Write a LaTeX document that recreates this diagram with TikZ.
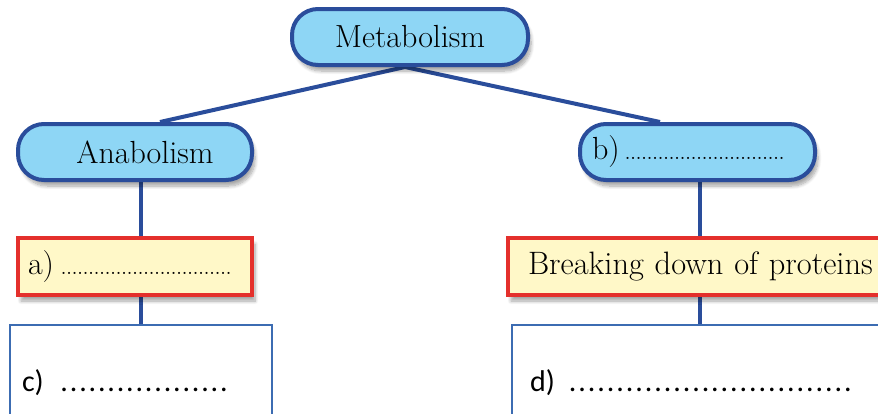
\documentclass[tikz,border=0pt]{standalone}
\usepackage{fontspec}
\newfontfamily\calibri{Carlito}
\usepackage{tikz}
\usetikzlibrary{positioning,backgrounds,shadows.blur}
\definecolor{metBlue}{RGB}{42,77,155}
\definecolor{metSky}{RGB}{142,214,245}
\definecolor{metCream}{RGB}{255,248,200}
\definecolor{metRed}{RGB}{228,48,44}
\definecolor{metFrame}{RGB}{60,108,178}
% row of blank dots: spacing, total length
\newcommand\blankdots[2]{\leaders\hbox to #1{\hss.\hss}\hskip #2\kern0pt\relax}
\tikzset{
 met shadow/.style={blur shadow={shadow xshift=1.5pt,shadow yshift=-3pt,
                    shadow blur steps=8,shadow opacity=35}},
 met pill/.style={draw=metBlue,line width=2pt,fill=metSky,rounded corners=13pt,
                  minimum height=28pt,inner sep=0pt,met shadow},
 met task/.style={draw=metRed,line width=2pt,fill=metCream,minimum height=28.5pt,
                  inner sep=0pt,met shadow},
 met blank/.style={draw=metFrame,line width=1.2pt,fill=white,minimum height=58pt,
                   inner ysep=0pt,align=left},
 met link/.style={metBlue,line width=2pt},
 met label/.style={font=\fontsize{16}{19}\selectfont}
}

\begin{document}
\begin{tikzpicture}[x=0.5pt,y=-0.5pt]
 \useasboundingbox (0,0) rectangle (878,413);

 \node[met pill,met label,minimum width=118pt] (metab) at (410,37) {Metabolism};
 \node[met pill,met label,minimum width=117pt] (anab) at (135,152)
   {\hspace*{10pt}Anabolism};
 \node[met pill,met label,text width=105.5pt,inner xsep=6pt,align=left] (bcat)
   at (697.5,152) {b){\fontsize{10}{11}\selectfont\blankdots{2.75pt}{85pt}}};

 \node[met task,met label,text width=107pt,inner xsep=5pt,align=left] (atask)
   at (135,266.5) {a)\,{\fontsize{10}{11}\selectfont\blankdots{2.75pt}{88pt}}};
 \node[met task,text width=180pt,inner xsep=10pt,align=left,
       font=\fontsize{16.2}{19}\selectfont] (brk)
   at (708,266.5) {Breaking down of proteins};

 \node[met blank,text width=119pt,inner xsep=6pt,
       font=\calibri\fontsize{15}{18}\selectfont] (cbox) at (141,383)
   {c) \blankdots{4.7pt}{88pt}};
 \node[met blank,text width=170pt,inner xsep=9pt,
       font=\calibri\fontsize{15}{18}\selectfont] (dbox) at (700,383)
   {d) \blankdots{4.75pt}{147.5pt}};

 % Connectors run behind the boxes.
 \begin{scope}[on background layer]
  \draw[met link] ([xshift=-2.5pt]metab.south) -- ([xshift=12.5pt]anab.north);
  \draw[met link] ([xshift=-2.5pt]metab.south) -- ([xshift=-18.75pt]bcat.north);
  \draw[met link] (anab.south -| cbox.north) -- (cbox.north);
  \draw[met link] (bcat.south -| dbox.north) -- (dbox.north);
 \end{scope}
\end{tikzpicture}
\end{document}
